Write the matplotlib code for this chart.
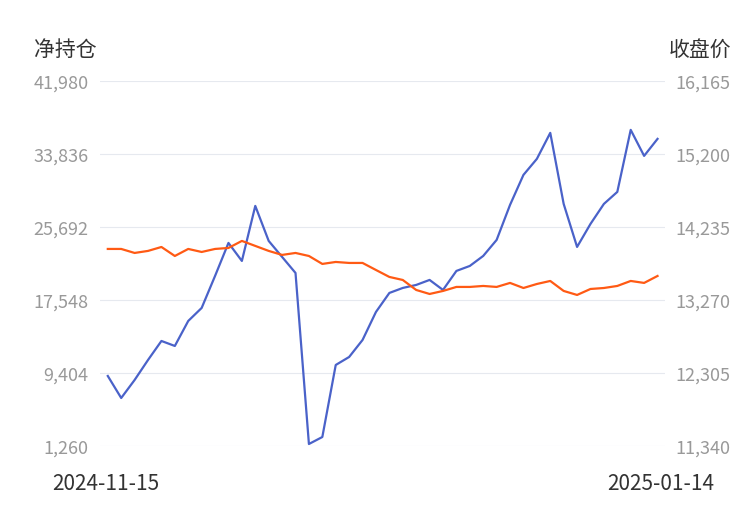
import matplotlib.pyplot as plt

plt.rcParams['font.family'] = ['Noto Sans CJK SC', 'DejaVu Sans']

net_pos = [9070, 6615, 8624, 10855, 12974, 12417, 15206, 16656, 20226, 23907,
           21899, 28035, 24130, 22345, 20560, 1484, 2265, 10297, 11189, 13086,
           16210, 18329, 18887, 19222, 19780, 18664, 20784, 21341, 22457, 24242,
           28147, 31493, 33278, 36179, 28258, 23461, 26027, 28258, 29597, 36514,
           33613, 35510]
close = [13944, 13944, 13891, 13918, 13970, 13851, 13944, 13904, 13944, 13957,
         14050, 13984, 13918, 13865, 13891, 13851, 13746, 13772, 13759, 13759,
         13666, 13574, 13534, 13402, 13349, 13389, 13442, 13442, 13455, 13442,
         13495, 13428, 13481, 13521, 13389, 13336, 13415, 13428, 13455, 13521,
         13495, 13587]
left_ticks = [1260, 9404, 17548, 25692, 33836, 41980]
right_ticks = [11340, 12305, 13270, 14235, 15200, 16165]
start_label, end_label = "2024-11-15", "2025-01-14"

fig = plt.figure(figsize=(7.5, 5.1), dpi=100)
ax = fig.add_axes([0.133, 0.1235, 0.753, 0.716])
ax2 = ax.twinx()
x = range(len(net_pos))

ax.plot(x, net_pos, color='#4a62c9', lw=1.6)
ax2.plot(x, close, color='#ff5a14', lw=1.6)

ax.set_xlim(-0.6, len(net_pos) - 0.48)
ax.set_ylim(left_ticks[0], left_ticks[-1])
ax2.set_ylim(right_ticks[0], right_ticks[-1])
ax.set_yticks(left_ticks)
ax.set_yticklabels([f"{v:,}" for v in left_ticks])
ax2.set_yticks(right_ticks)
ax2.set_yticklabels([f"{v:,}" for v in right_ticks])
ax.set_xticks([])
ax.grid(axis='y', color='#e6e9ef', lw=0.8)
ax.set_axisbelow(True)
for a in (ax, ax2):
    for s in a.spines.values():
        s.set_visible(False)
    a.tick_params(length=0, labelsize=13, labelcolor='#999999', pad=8)

fig.text(0.045, 0.89, "净持仓", fontsize=15, color='#333333')
fig.text(0.975, 0.89, "收盘价", fontsize=15, color='#333333', ha='right')
fig.text(0.07, 0.04, start_label, fontsize=15, color='#333333')
fig.text(0.952, 0.04, end_label, fontsize=15, color='#333333', ha='right')

fig.savefig("out.png")
